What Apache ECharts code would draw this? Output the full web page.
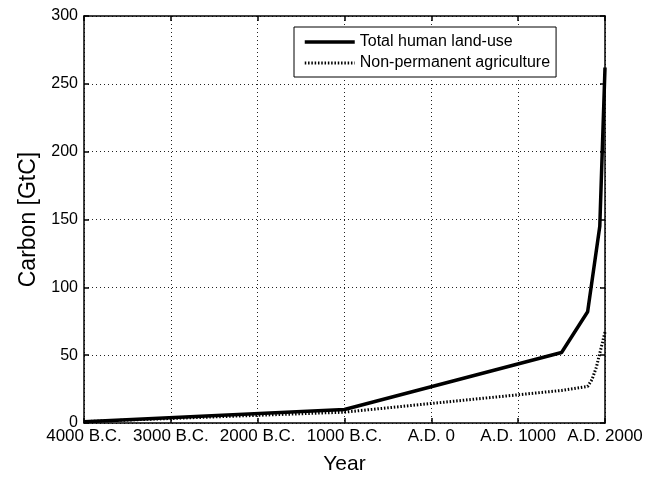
<!DOCTYPE html>
<html>
<head>
<meta charset="utf-8">
<script src="https://cdn.jsdelivr.net/npm/echarts@6/dist/echarts.min.js"></script>
<style>html,body{margin:0;padding:0;background:#fff}#c{width:654px;height:477px}</style>
</head>
<body>
<div id="c"></div>
<script>
// Data
var totalYears = [-4000, -1000, 1500, 1800, 1940, 2000];
var totalValues = [1, 10, 52, 82, 145, 262];
var agYears = [-4000, -1000, 1500, 1800, 1850, 1900, 1950, 2000];
var agValues = [1, 8, 24, 27, 32, 41, 54, 67];
var seriesNames = ['Total human land-use', 'Non-permanent agriculture'];
var xTickMin = -4000, xTickMax = 2000, xTickStep = 1000;
var yTickMin = 0, yTickMax = 300, yTickStep = 50;

function pairs(xs, ys) { return xs.map(function (x, i) { return [x, ys[i]]; }); }
function yearLabel(v) { return v < 0 ? (-v) + ' B.C.' : 'A.D. ' + v; }

var FONT = 'Liberation Sans, Arial, Helvetica, sans-serif';
var gridLine = { show: true, lineStyle: { color: '#222', width: 1, type: [1, 3] } };
var axisLine = { show: true, onZero: false, lineStyle: { color: '#000', width: 1.5 } };
var tick = { show: true, inside: true, length: 5, lineStyle: { color: '#000', width: 1.5 } };

var chart = echarts.init(document.getElementById('c'), null, { renderer: 'canvas' });
chart.setOption({
  animation: false,
  backgroundColor: '#fff',
  textStyle: { fontFamily: FONT, color: '#000' },
  grid: { left: 84, right: 49, top: 16, bottom: 54, containLabel: false, outerBoundsMode: 'none' },
  legend: {
    orient: 'vertical',
    left: 294, top: 27,
    padding: [7, 6, 6, 9],
    itemWidth: 50, itemHeight: 14, itemGap: 5,
    backgroundColor: '#fff',
    borderColor: '#000', borderWidth: 1,
    itemStyle: { opacity: 0 },
    lineStyle: { width: 'inherit', type: 'inherit' },
    textStyle: { fontFamily: FONT, fontSize: 16, color: '#000' },
    data: seriesNames
  },
  xAxis: [{
    type: 'value', min: xTickMin, max: xTickMax, interval: xTickStep,
    name: 'Year', nameLocation: 'middle', nameGap: 31,
    nameTextStyle: { fontFamily: FONT, fontSize: 21, color: '#000' },
    axisLine: axisLine, axisTick: tick, splitLine: gridLine,
    axisLabel: { formatter: yearLabel, fontFamily: FONT, fontSize: 17, color: '#000', margin: 5 }
  }, {
    type: 'value', position: 'top', min: xTickMin, max: xTickMax, interval: xTickStep,
    axisLine: axisLine, axisTick: tick, splitLine: { show: false }, axisLabel: { show: false }
  }],
  yAxis: [{
    type: 'value', min: yTickMin, max: yTickMax, interval: yTickStep,
    name: 'Carbon [GtC]', nameLocation: 'middle', nameGap: 43,
    nameTextStyle: { fontFamily: FONT, fontSize: 23, color: '#000' },
    axisLine: axisLine, axisTick: tick, splitLine: gridLine,
    axisLabel: { fontFamily: FONT, fontSize: 16, color: '#000', margin: 6 }
  }, {
    type: 'value', position: 'right', min: yTickMin, max: yTickMax, interval: yTickStep,
    axisLine: axisLine, axisTick: tick, splitLine: { show: false }, axisLabel: { show: false }
  }],
  series: [{
    name: seriesNames[0], type: 'line', symbol: 'none', xAxisIndex: 0, yAxisIndex: 0,
    lineStyle: { color: '#000', width: 3.5, type: 'solid' },
    itemStyle: { color: '#000' },
    data: pairs(totalYears, totalValues), z: 3
  }, {
    name: seriesNames[1], type: 'line', symbol: 'none', xAxisIndex: 0, yAxisIndex: 0,
    lineStyle: { color: '#000', width: 3, type: [1.5, 1.8] },
    itemStyle: { color: '#000' },
    data: pairs(agYears, agValues), z: 2
  }]
});
</script>
</body>
</html>
